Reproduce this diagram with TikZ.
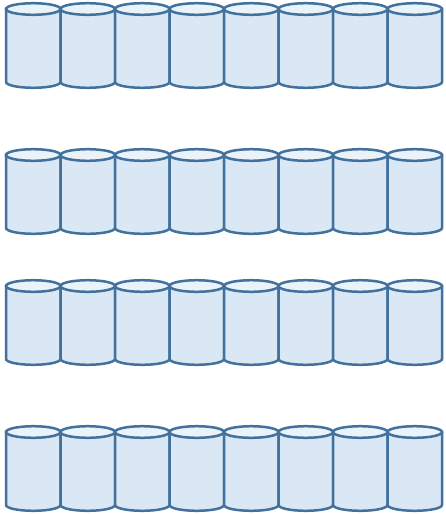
\documentclass[tikz,border=0pt]{standalone}
\usepackage{tikz}
\usetikzlibrary{calc}
\definecolor{canline}{HTML}{41719C}
\definecolor{canfill}{HTML}{DAE7F5}
\definecolor{cantopfill}{HTML}{EAF2FA}
\begin{document}
\begin{tikzpicture}[x=1pt, y=-1pt,
  canbody/.style={draw=canline, fill=canfill, line width=2.5pt, line join=round},
  cantop/.style={draw=canline, fill=cantopfill, line width=2.5pt},
  can/.pic={
    \filldraw[canbody] (-27.25,0) -- (-27.25,73)
      arc[start angle=180, end angle=0, x radius=27.25, y radius=5.8]
      -- (27.25,0) -- cycle;
    \filldraw[cantop] (0,0) ellipse[x radius=27.25, y radius=5.8];
  }
]
\useasboundingbox (0,0) rectangle (445,514);

\foreach \rowy [count=\r] in {9,155,286,432}
  \foreach \i in {0,...,7}
    \pic (can-\r-\i) at ({33.25+\i*54.5},\rowy) {can};
\end{tikzpicture}
\end{document}
